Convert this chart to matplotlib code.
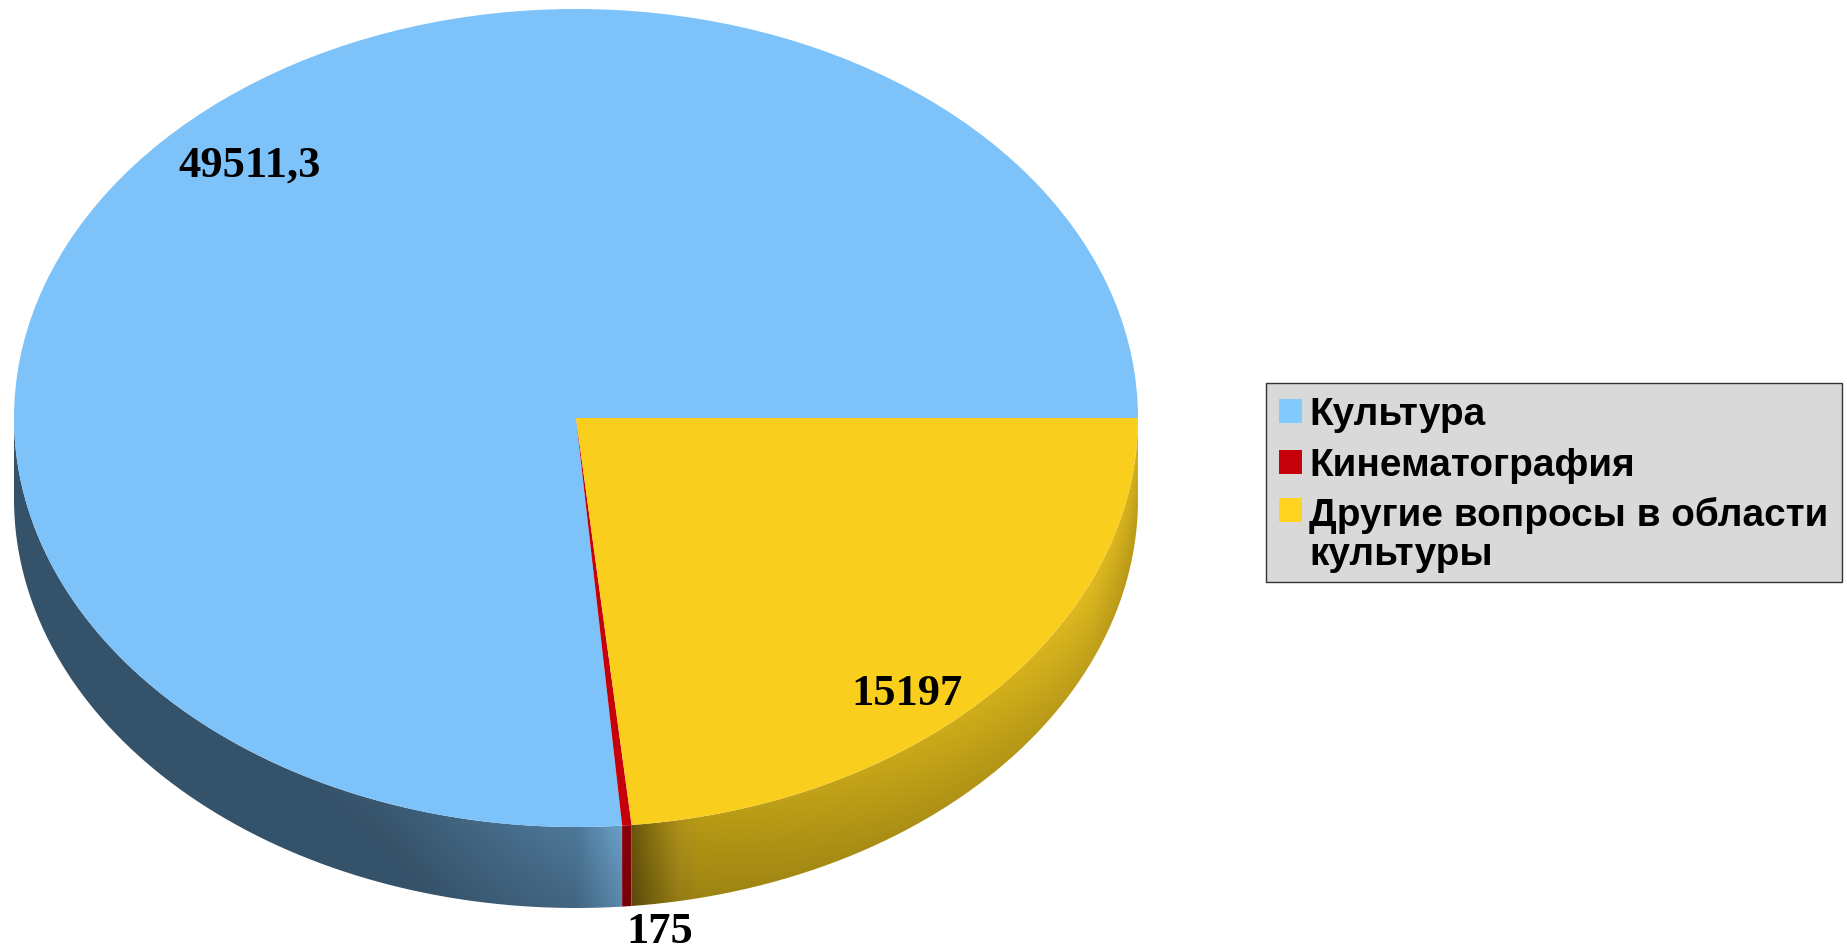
import numpy as np
import matplotlib
matplotlib.use("Agg")
import matplotlib.pyplot as plt
from matplotlib.patches import PathPatch, Rectangle
from matplotlib.path import Path

values = [49511.3, 175, 15197]
value_labels = ["49511,3", "175", "15197"]
categories = ["Культура", "Кинематография", "Другие вопросы в области\nкультуры"]
colors = ["#7dc3f9", "#c5000b", "#f9ce1d"]
legend_colors = ["#83caff", "#c5000b", "#ffd320"]

W, H = 1847, 950
cx, cy, rx, ry = 576, 418, 562, 409
depth = 81

fig = plt.figure(figsize=(W / 100, H / 100), dpi=100)
# axes fill the figure, limits set so the unit pie lands on the top ellipse
ax = fig.add_axes([0, 0, 1, 1])
wedges, _ = ax.pie(values, colors=colors, startangle=0, counterclock=True, radius=1)
ax.set_aspect("auto")
xlim = (-cx / rx, (W - cx) / rx)
ylim = ((cy - H) / ry, cy / ry)
ax.set_xlim(xlim)
ax.set_ylim(ylim)
for w in wedges:
    w.set_zorder(5)

# rim colours along picture x, at the upper edge of the rim
blue_x = [0, 300, 380, 470, 577, 622]
blue_c = ["#34526a", "#34526a", "#395870", "#436784", "#4e7899", "#6ba0c9"]
blue_floor = "#34526a"
red_x = [600, 640]
red_c = ["#8a0008", "#8a0008"]
yel_x = [632, 650, 680, 700, 850, 1000, 1090, 1138]
yel_c = ["#6b560e", "#86700f", "#b0921a", "#b89a15", "#c4a418", "#d2af1a", "#dfba20", "#d4b01c"]
yy, xx = np.mgrid[0:H, 0:W]


def hex_rgb(c):
    return np.array([int(c[i:i + 2], 16) / 255 for i in (1, 3, 5)])


def rim(a0, a1, stops_x, stops_c, floor="#000000"):
    # side of one slice, only the lower half of the ellipse can be seen
    th = np.radians(np.linspace(max(a0, 180), min(a1, 360), 300))
    x = np.cos(th)
    y = np.sin(th)
    dy = depth / ry
    verts = np.r_[np.c_[x, y], np.c_[x[::-1], y[::-1] - dy], [[x[0], y[0]]]]
    # p: 0 at the upper edge of the rim, 1 at the lower edge
    inner = cy + ry * np.sqrt(np.clip(1 - ((xx - cx) / rx) ** 2, 0, 1))
    p = np.clip((yy - inner) / depth, 0, 1)
    rgb = np.stack([np.interp(xx, stops_x, [hex_rgb(c)[k] for c in stops_c]) for k in range(3)], axis=-1)
    rgb = rgb * (1 - 0.15 * p)[..., None]
    rgb = np.maximum(rgb, hex_rgb(floor))
    im = ax.imshow(rgb, extent=[*xlim, *ylim], origin="upper", aspect="auto", zorder=2)
    patch = PathPatch(Path(verts), transform=ax.transData, fc="none", ec="none")
    ax.add_patch(patch)
    im.set_clip_path(patch)


angles = np.r_[0, np.cumsum(values)] / np.sum(values) * 360
rim(angles[0], angles[1], blue_x, blue_c, blue_floor)
rim(angles[1], angles[2], red_x, red_c)
rim(angles[2], angles[3], yel_x, yel_c)
ax.set_xlim(xlim)
ax.set_ylim(ylim)

# data labels
label_pos = [(250, 166), (660, 932), (907, 694)]
for s, (px, py) in zip(value_labels, label_pos):
    fig.text(px / W, 1 - py / H, s, ha="center", va="center", family="Liberation Serif",
             weight="bold", fontsize=32, color="black", zorder=10)

# legend box
fig.add_artist(Rectangle((1266 / W, 1 - 582 / H), 576 / W, 199 / H, transform=fig.transFigure,
                         fc="#d9d9d9", ec="#333333", lw=1))
handle_y = [411, 462, 510]
text_y = [397, 448, 497]
for name, c, hy, ty in zip(categories, legend_colors, handle_y, text_y):
    fig.add_artist(Rectangle((1279 / W, 1 - (hy + 12) / H), 23 / W, 24 / H, transform=fig.transFigure,
                             fc=c, ec="none"))
    fig.text(1309 / W, 1 - ty / H, name, ha="left", va="top", family="Liberation Sans",
             weight="bold", fontsize=27.9, color="black", linespacing=1.1)

fig.savefig("out.png", dpi=100)
